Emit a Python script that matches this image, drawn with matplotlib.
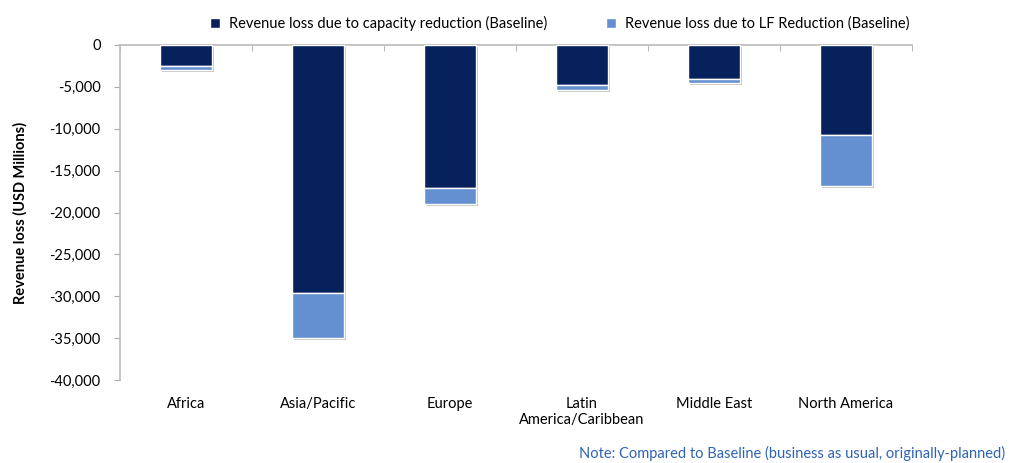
import matplotlib.pyplot as plt
import matplotlib.patheffects as pe
from matplotlib.ticker import FuncFormatter

# data (USD millions)
regions = ["Africa", "Asia/Pacific", "Europe", "Latin\nAmerica/Caribbean",
           "Middle East", "North America"]
capacity_loss = [-2500, -29600, -17100, -4800, -4000, -10800]
lf_loss = [-500, -5400, -1900, -600, -500, -6000]

dark = "#06215B"
light = "#6490D2"

plt.rcParams['font.family'] = ['Lato', 'DejaVu Sans']

fig = plt.figure(figsize=(10.1, 4.63), dpi=100)
ax = fig.add_axes([120 / 1010, 1 - 380 / 463, 792 / 1010, 335 / 463])

x = list(range(len(regions)))
shadow = [pe.SimplePatchShadow(offset=(1.5, -1.5), shadow_rgbFace="#999999",
                               alpha=0.6), pe.Normal()]
b1 = ax.bar(x, capacity_loss, width=0.4, color=dark, edgecolor="white",
            linewidth=1, label="Revenue loss due to capacity reduction (Baseline)",
            zorder=3)
b2 = ax.bar(x, lf_loss, width=0.4, bottom=capacity_loss, color=light,
            edgecolor="white", linewidth=1,
            label="Revenue loss due to LF Reduction (Baseline)", zorder=3)
for bar in list(b1) + list(b2):
    bar.set_path_effects(shadow)

ax.set_xlim(-0.5, len(regions) - 0.5)
ax.set_ylim(-40000, 0)
ax.set_yticks(range(-40000, 1, 5000))
ax.yaxis.set_major_formatter(FuncFormatter(lambda v, p: f"{int(v):,}"))

# category labels below, boundary ticks on the zero line
ax.set_xticks(x)
ax.set_xticklabels(regions, fontsize=10.5)
ax.set_xticks([i + 0.5 for i in range(-1, len(regions))], minor=True)
ax.tick_params(axis="x", which="major", length=0, pad=12)
ax.tick_params(axis="x", which="minor", top=True, bottom=False,
               direction="in", length=4, color="#AAAAAA")
ax.tick_params(axis="y", length=4, color="#AAAAAA", labelsize=10.5, pad=10)

for side in ["right", "bottom"]:
    ax.spines[side].set_visible(False)
for side in ["left", "top"]:
    ax.spines[side].set_color("#BBBBBB")
    ax.spines[side].set_linewidth(1.2)

ax.set_ylabel("Revenue loss (USD Millions)", fontsize=10.5,
              fontweight="bold", labelpad=16)

leg = ax.legend(loc="lower center", bbox_to_anchor=(0.555, 1.025), ncol=2,
                frameon=False, fontsize=10.5, handlelength=0.7,
                handleheight=0.7, columnspacing=4.0, handletextpad=0.6,
                borderaxespad=0)
for h in leg.legend_handles:
    h.set_path_effects([])

fig.text(1005 / 1010, 1 - 453 / 463,
         "Note: Compared to Baseline (business as usual, originally-planned)",
         ha="right", va="center", fontsize=10.5, color="#2F63B4")

fig.savefig("out.png", dpi=100)
